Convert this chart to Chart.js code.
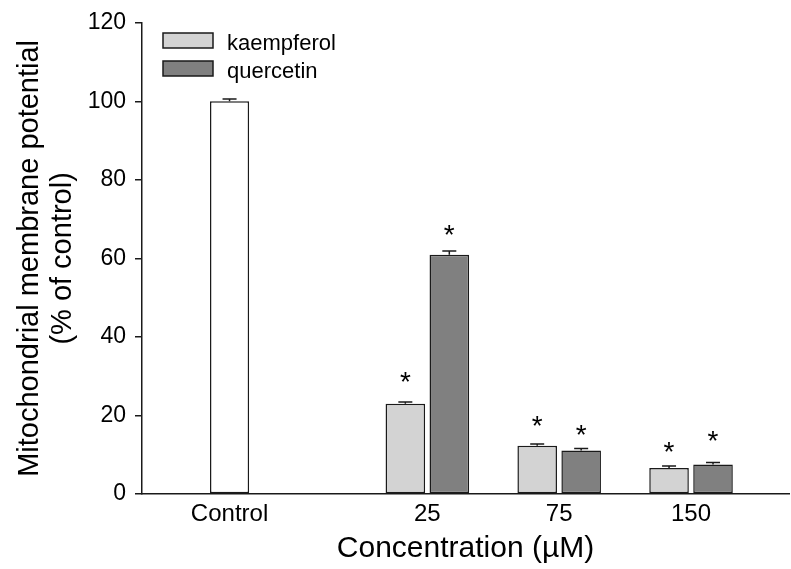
<!DOCTYPE html>
<html>
<head>
<meta charset="utf-8">
<script src="https://cdn.jsdelivr.net/npm/chart.js@4"></script>
<style>
  html, body { margin: 0; padding: 0; background: #fff; }
  canvas { display: block; }
</style>
</head>
<body>
<canvas id="mainChart" width="791" height="569"></canvas>
<script>
// Groups along x (Control sits apart from the concentrations)
const groups = ['Control', '25', '75', '150'];
const groupSlots = [0, 1.5, 2.5, 3.5];

// % of control
const controlValues = [100, null, null, null];
const controlErrors = [0.6, null, null, null];
const kaempferolValues = [null, 23.0, 12.3, 6.6];
const kaempferolErrors = [null, 0.4, 0.45, 0.5];
const quercetinValues = [null, 60.9, 11.1, 7.5];
const quercetinErrors = [null, 1.0, 0.5, 0.5];

// where the significance asterisks sit (same units as y)
const kaempferolStars = [null, 29.4, 18.2, 11.4];
const quercetinStars = [null, 66.8, 15.9, 14.2];

const yTicks = [0, 20, 40, 60, 80, 100, 120];

const FONT = "'Liberation Sans', Arial, Helvetica, sans-serif";
const INK = '#1a1a1a';

const toPoints = vals => groupSlots.map((x, i) => ({ x, y: vals[i] }));

// error caps, asterisks and the in-plot legend
const overlay = {
    id: 'overlay',
    afterDatasetsDraw(chart) {
        const { ctx, scales: { y } } = chart;
        ctx.save();
        ctx.strokeStyle = INK;
        ctx.lineWidth = 1.5;
        ctx.fillStyle = '#000';
        ctx.textAlign = 'center';
        ctx.textBaseline = 'alphabetic';
        ctx.font = `28px ${FONT}`;

        chart.data.datasets.forEach((ds, i) => {
            const meta = chart.getDatasetMeta(i);
            meta.data.forEach((bar, j) => {
                const v = ds.values[j];
                if (v == null) return;
                const yTop = y.getPixelForValue(v);
                const yErr = y.getPixelForValue(v + ds.errors[j]);
                ctx.beginPath();
                ctx.moveTo(bar.x, yTop);
                ctx.lineTo(bar.x, yErr);
                ctx.moveTo(bar.x - 7, yErr);
                ctx.lineTo(bar.x + 7, yErr);
                ctx.stroke();

                const s = ds.stars ? ds.stars[j] : null;
                if (s != null) ctx.fillText('*', bar.x, y.getPixelForValue(s) + 12);
            });
        });

        // legend
        ctx.textAlign = 'left';
        ctx.font = `22px ${FONT}`;
        chart.data.datasets.slice(1).forEach((ds, k) => {
            const top = 33 + k * 28;
            ctx.fillStyle = ds.backgroundColor;
            ctx.fillRect(163, top, 50, 15);
            ctx.strokeRect(163, top, 50, 15);
            ctx.fillStyle = '#000';
            ctx.fillText(ds.label, 227, top + 17);
        });
        ctx.restore();
    }
};

const barStyle = {
    borderColor: INK,
    borderWidth: 1.5,
    borderSkipped: false,
    skipNull: true,
    categoryPercentage: 0.667,
    barPercentage: 0.9
};

new Chart(document.getElementById('mainChart').getContext('2d'), {
    type: 'bar',
    data: {
        datasets: [
            {
                ...barStyle,
                label: 'Control',
                data: toPoints(controlValues),
                values: controlValues,
                errors: controlErrors,
                backgroundColor: '#ffffff',
                barPercentage: 0.445
            },
            {
                ...barStyle,
                label: 'kaempferol',
                data: toPoints(kaempferolValues),
                values: kaempferolValues,
                errors: kaempferolErrors,
                stars: kaempferolStars,
                backgroundColor: '#d3d3d3'
            },
            {
                ...barStyle,
                label: 'quercetin',
                data: toPoints(quercetinValues),
                values: quercetinValues,
                errors: quercetinErrors,
                stars: quercetinStars,
                backgroundColor: '#808080'
            }
        ]
    },
    options: {
        responsive: false,
        animation: false,
        devicePixelRatio: 1,
        layout: { padding: { top: 20, right: 2, left: 0, bottom: 0 } },
        plugins: {
            legend: { display: false },
            tooltip: { enabled: false }
        },
        scales: {
            x: {
                type: 'linear',
                offset: false,
                min: -0.664,
                max: 4.243,
                afterBuildTicks: s => { s.ticks = groupSlots.map(v => ({ value: v })); },
                afterFit: s => { s.height = 75; },
                grid: { display: false, drawTicks: false, offset: false },
                border: { color: INK, width: 1.5 },
                ticks: {
                    autoSkip: false,
                    maxRotation: 0,
                    padding: 6,
                    color: '#000',
                    font: { family: FONT, size: 24 },
                    callback: (v, i) => groups[i]
                },
                title: {
                    display: true,
                    text: 'Concentration (\u00b5M)',
                    color: '#000',
                    font: { family: FONT, size: 30, lineHeight: 1.1 },
                    padding: { top: 0, bottom: 4 }
                }
            },
            y: {
                min: 0,
                max: 120,
                afterBuildTicks: s => { s.ticks = yTicks.map(v => ({ value: v })); },
                afterFit: s => { s.width = 142; },
                grid: { drawOnChartArea: false, tickLength: 7, color: INK, lineWidth: 1.5 },
                border: { color: INK, width: 1.5 },
                ticks: {
                    padding: 9,
                    color: '#000',
                    font: { family: FONT, size: 23 }
                },
                title: {
                    display: true,
                    text: ['Mitochondrial membrane potential', '(% of control)'],
                    color: '#000',
                    font: { family: FONT, size: 29, lineHeight: 1.12 },
                    padding: { top: 14, bottom: 0 }
                }
            }
        }
    },
    plugins: [overlay]
});
</script>
</body>
</html>
